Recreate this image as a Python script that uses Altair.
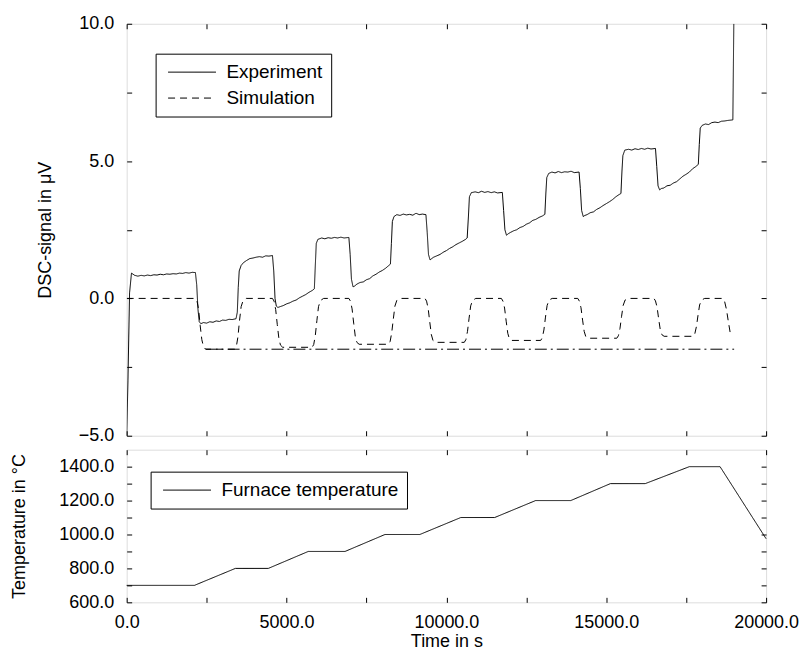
import altair as alt
import pandas as pd

# ---------------- data ----------------
exp_t = [0, 40, 90, 150, 250, 350, 450, 550, 650, 750, 850, 950, 1050, 1150, 1250, 1350, 1450, 1550,
         1650, 1750, 1850, 1950, 2050, 2150,
         2190, 2230, 2270, 2320,
         2400, 2500, 2600, 2700, 2800, 2900, 3000, 3100, 3200, 3300, 3420,
         3460, 3490, 3520, 3580, 3650, 3750, 3850, 3950, 4050, 4150, 4250, 4350, 4450, 4560,
         4600, 4640, 4680, 4730,
         4800, 4900, 5000, 5100, 5200, 5300, 5400, 5500, 5600, 5700, 5820, 5870,
         5900, 5930, 5980, 6100, 6200, 6300, 6400, 6500, 6600, 6700, 6800, 6950,
         6990, 7030, 7080, 7130,
         7200, 7300, 7400, 7500, 7600, 7700, 7800, 7900, 8000, 8100, 8200, 8250,
         8280, 8310, 8360, 8450, 8550, 8650, 8750, 8850, 8950, 9050, 9150, 9250, 9360,
         9400, 9440, 9490, 9540,
         9600, 9700, 9800, 9900, 10000, 10100, 10200, 10300, 10400, 10500, 10600, 10650,
         10690, 10720, 10780, 10900, 11000, 11100, 11200, 11300, 11400, 11500, 11600, 11750,
         11790, 11830, 11880, 11930,
         12000, 12100, 12200, 12300, 12400, 12500, 12600, 12700, 12800, 12900, 13000, 13080,
         13110, 13140, 13200, 13300, 13400, 13500, 13600, 13700, 13800, 13900, 14000, 14150,
         14190, 14230, 14280, 14330,
         14400, 14500, 14600, 14700, 14800, 14900, 15000, 15100, 15200, 15300, 15400, 15460,
         15490, 15520, 15580, 15700, 15800, 15900, 16000, 16100, 16200, 16300, 16400, 16540,
         16580, 16620, 16670, 16720,
         16800, 16900, 17000, 17100, 17200, 17300, 17400, 17500, 17600, 17700, 17800, 17880,
         17910, 17940, 18000, 18100, 18200, 18300, 18400, 18500, 18600, 18700, 18800, 18960,
         18990]
exp_v = [-5.0, -3.0, 0.2, 0.92, 0.84, 0.81, 0.84, 0.82, 0.85, 0.83, 0.86, 0.85, 0.88, 0.86, 0.89, 0.88, 0.90, 0.89,
         0.92, 0.91, 0.94, 0.92, 0.95, 0.94,
         0.5, -0.4, -0.85, -0.92,
         -0.88, -0.90, -0.85, -0.87, -0.82, -0.84, -0.79, -0.80, -0.76, -0.77, -0.74,
         -0.5, 0.4, 1.0, 1.2, 1.3, 1.38, 1.45, 1.47, 1.50, 1.52, 1.50, 1.55, 1.54, 1.56,
         1.0, 0.0, -0.28, -0.33,
         -0.30, -0.26, -0.20, -0.16, -0.10, -0.06, 0.02, 0.08, 0.14, 0.22, 0.30, 0.35,
         1.2, 2.0, 2.15, 2.20, 2.17, 2.21, 2.19, 2.22, 2.20, 2.23, 2.20, 2.22,
         1.6, 0.7, 0.42, 0.45,
         0.52, 0.58, 0.60, 0.68, 0.72, 0.82, 0.88, 0.96, 1.02, 1.10, 1.20, 1.25,
         2.0, 2.8, 2.98, 3.05, 3.02, 3.07, 3.04, 3.06, 3.03, 3.10, 3.05, 3.07, 3.05,
         2.4, 1.6, 1.40, 1.45,
         1.50, 1.55, 1.60, 1.68, 1.74, 1.82, 1.88, 1.96, 2.02, 2.08, 2.15, 2.20,
         3.0, 3.7, 3.85, 3.88, 3.85, 3.90, 3.86, 3.89, 3.85, 3.88, 3.84, 3.86,
         3.2, 2.5, 2.30, 2.35,
         2.40, 2.46, 2.50, 2.58, 2.62, 2.70, 2.75, 2.84, 2.88, 2.95, 3.00, 3.06,
         3.8, 4.4, 4.55, 4.60, 4.57, 4.62, 4.58, 4.61, 4.60, 4.63, 4.58, 4.60,
         4.0, 3.2, 2.98, 3.02,
         3.05, 3.12, 3.15, 3.24, 3.30, 3.38, 3.45, 3.52, 3.60, 3.70, 3.78, 3.82,
         4.6, 5.2, 5.40, 5.43, 5.40, 5.45, 5.42, 5.46, 5.43, 5.47, 5.44, 5.46,
         4.8, 4.1, 3.95, 4.00,
         4.02, 4.10, 4.12, 4.20, 4.25, 4.35, 4.45, 4.52, 4.60, 4.72, 4.80, 4.88,
         5.6, 6.2, 6.30, 6.35, 6.33, 6.40, 6.42, 6.40, 6.45, 6.46, 6.48, 6.50,
         10.0]

sim_t = [0, 2150, 2200, 2250, 2300, 2350, 2400, 2470,
         3380, 3430, 3480, 3530, 3580, 3640, 3740,
         4560, 4610, 4660, 4710, 4760, 4810, 4880,
         5800, 5850, 5900, 5950, 6000, 6060, 6160,
         6950, 7000, 7050, 7100, 7150, 7200, 7270,
         8190, 8240, 8290, 8340, 8390, 8450, 8550,
         9330, 9380, 9430, 9480, 9530, 9580, 9650,
         10560, 10610, 10660, 10710, 10760, 10820, 10920,
         11720, 11770, 11820, 11870, 11920, 11970, 12040,
         12950, 13000, 13050, 13100, 13150, 13210, 13310,
         14110, 14160, 14210, 14260, 14310, 14360, 14430,
         15330, 15380, 15430, 15480, 15530, 15590, 15690,
         16490, 16540, 16590, 16640, 16690, 16740, 16810,
         17720, 17770, 17820, 17870, 17920, 17980, 18080,
         18650, 18700, 18760, 18820, 18880]
sim_v = [0, 0, -0.1, -0.4, -1.0, -1.5, -1.75, -1.85,
         -1.85, -1.75, -1.4, -0.8, -0.3, -0.08, 0,
         0, -0.1, -0.4, -0.95, -1.45, -1.7, -1.78,
         -1.78, -1.68, -1.35, -0.8, -0.3, -0.08, 0,
         0, -0.1, -0.38, -0.9, -1.38, -1.6, -1.67,
         -1.67, -1.57, -1.25, -0.75, -0.28, -0.07, 0,
         0, -0.1, -0.37, -0.86, -1.32, -1.53, -1.6,
         -1.6, -1.5, -1.2, -0.72, -0.27, -0.07, 0,
         0, -0.1, -0.35, -0.83, -1.27, -1.47, -1.53,
         -1.53, -1.43, -1.15, -0.68, -0.26, -0.06, 0,
         0, -0.1, -0.34, -0.79, -1.2, -1.39, -1.45,
         -1.45, -1.36, -1.09, -0.65, -0.25, -0.06, 0,
         0, -0.09, -0.32, -0.75, -1.14, -1.32, -1.38,
         -1.38, -1.29, -1.03, -0.62, -0.24, -0.06, 0,
         0, -0.1, -0.4, -0.85, -1.27]

base_t = [2470, 19000]
base_v = [-1.85, -1.85]

temp_t = [0, 2120, 3400, 4430, 5680, 6830, 8080, 9170, 10450, 11510, 12790, 13890,
          15130, 16220, 17600, 18560, 20000]
temp_v = [700, 700, 800, 800, 900, 900, 1000, 1000, 1100, 1100, 1200, 1200,
          1300, 1300, 1400, 1400, 975]

x_ticks = [0, 2500, 5000, 7500, 10000, 12500, 15000, 17500, 20000]
y_top_ticks = [-5, -2.5, 0, 2.5, 5, 7.5, 10]
y_bot_ticks = [600, 700, 800, 900, 1000, 1100, 1200, 1300, 1400]

# ---------------- chart ----------------
FONT = "Liberation Sans"
W = 641
H_TOP = 413
H_BOT = 153

exp_df = pd.DataFrame({"t": exp_t, "v": exp_v, "series": "Experiment"})
sim_df = pd.DataFrame({"t": sim_t, "v": sim_v, "series": "Simulation"})
base_df = pd.DataFrame({"t": base_t, "v": base_v})
temp_df = pd.DataFrame({"t": temp_t, "v": temp_v, "series": "Furnace temperature"})

x_scale = alt.Scale(domain=[0, 20000], nice=False, zero=False)
y_top_scale = alt.Scale(domain=[-5, 10], nice=False, zero=False)
y_bot_scale = alt.Scale(domain=[600, 1500], nice=False, zero=False)


def tick_axis(orient, values):
    return alt.Axis(orient=orient, values=values, labels=False, domain=False,
                    offset=-5, tickSize=5, tickColor="black", grid=False, title=None)


def x_label_axis(labels, title=None):
    kw = dict(orient="bottom", values=x_ticks, labels=labels, domain=False,
              offset=-5, tickSize=5, tickColor="black", grid=False,
              labelExpr="datum.value % 5000 == 0 ? format(datum.value, '.1f') : ''",
              labelPadding=11, labelFont=FONT, labelFontSize=18, labelColor="black",
              labelOverlap=False, labelFlush=False)
    if title is not None:
        kw.update(title=title, titleFont=FONT, titleFontSize=18, titleFontWeight="normal",
                  titleColor="black", titlePadding=1)
    else:
        kw.update(title=None)
    return alt.Axis(**kw)


def y_label_axis(values, mod, title, tpad):
    return alt.Axis(orient="left", values=values, domain=False, offset=-5, tickSize=5,
                    tickColor="black", grid=False,
                    labelExpr=f"datum.value % {mod} == 0 ? format(datum.value, '.1f') : ''",
                    labelPadding=13, labelFont=FONT, labelFontSize=18, labelColor="black",
                    labelOverlap=False, labelFlush=False,
                    title=title, titleFont=FONT, titleFontSize=18, titleFontWeight="normal",
                    titleColor="black", titlePadding=tpad)


def legend(x, y):
    return alt.Legend(title=None, orient="none", legendX=x, legendY=y,
                      symbolType="M-0.6,0H4.2", symbolSize=400, symbolStrokeWidth=1,
                      symbolStrokeColor="black", symbolFillColor="transparent",
                      labelFont=FONT, labelFontSize=19, labelLimit=400,
                      labelColor="black", labelOffset=42, strokeColor="black",
                      fillColor="white", padding=8, rowPadding=5)


top_dash = alt.Scale(domain=["Experiment", "Simulation"], range=[[1, 0], [7, 5]])

exp_layer = alt.Chart(exp_df).mark_line(color="black", strokeWidth=1, clip=True).encode(
    x=alt.X("t:Q", scale=x_scale, axis=x_label_axis(False)),
    y=alt.Y("v:Q", scale=y_top_scale, axis=y_label_axis(y_top_ticks, 5, "DSC-signal in μV", 24)),
    strokeDash=alt.StrokeDash("series:N", scale=top_dash, legend=legend(29, 30)),
)

sim_layer = alt.Chart(sim_df).mark_line(color="black", strokeWidth=1, clip=True).encode(
    x=alt.X("t:Q", scale=x_scale, axis=tick_axis("top", x_ticks)),
    y=alt.Y("v:Q", scale=y_top_scale, axis=tick_axis("right", y_top_ticks)),
    strokeDash=alt.StrokeDash("series:N", scale=top_dash, legend=legend(29, 30)),
)

base_layer = alt.Chart(base_df).mark_line(color="black", strokeWidth=1,
                                          strokeDash=[12, 4, 2, 4]).encode(
    x=alt.X("t:Q", scale=x_scale, axis=None),
    y=alt.Y("v:Q", scale=y_top_scale, axis=None),
)

top = alt.layer(exp_layer, sim_layer, base_layer).resolve_axis(
    x="independent", y="independent"
).properties(width=W, height=H_TOP)

bot_dash = alt.Scale(domain=["Furnace temperature"], range=[[1, 0]])

temp_layer = alt.Chart(temp_df).mark_line(color="black", strokeWidth=1).encode(
    x=alt.X("t:Q", scale=x_scale, axis=x_label_axis(True, "Time in s")),
    y=alt.Y("v:Q", scale=y_bot_scale,
            axis=y_label_axis(y_bot_ticks, 200, "Temperature in °C", 30)),
    strokeDash=alt.StrokeDash("series:N", scale=bot_dash, legend=legend(24, 22)),
)

temp_axes = alt.Chart(temp_df).mark_line(strokeOpacity=0).encode(
    x=alt.X("t:Q", scale=x_scale, axis=tick_axis("top", x_ticks)),
    y=alt.Y("v:Q", scale=y_bot_scale, axis=tick_axis("right", y_bot_ticks)),
)

bottom = alt.layer(temp_layer, temp_axes).resolve_axis(
    x="independent", y="independent"
).properties(width=W, height=H_BOT)

chart = alt.vconcat(top, bottom, spacing=14, bounds="flush").resolve_scale(
    strokeDash="independent"
).resolve_legend(strokeDash="independent").properties(
    padding={"left": 10, "top": 13, "right": 5, "bottom": 5}
).configure_view(stroke="black", strokeWidth=1).configure(background="white")

chart.save("out.html", embed_options={"renderer": "svg", "actions": False})
